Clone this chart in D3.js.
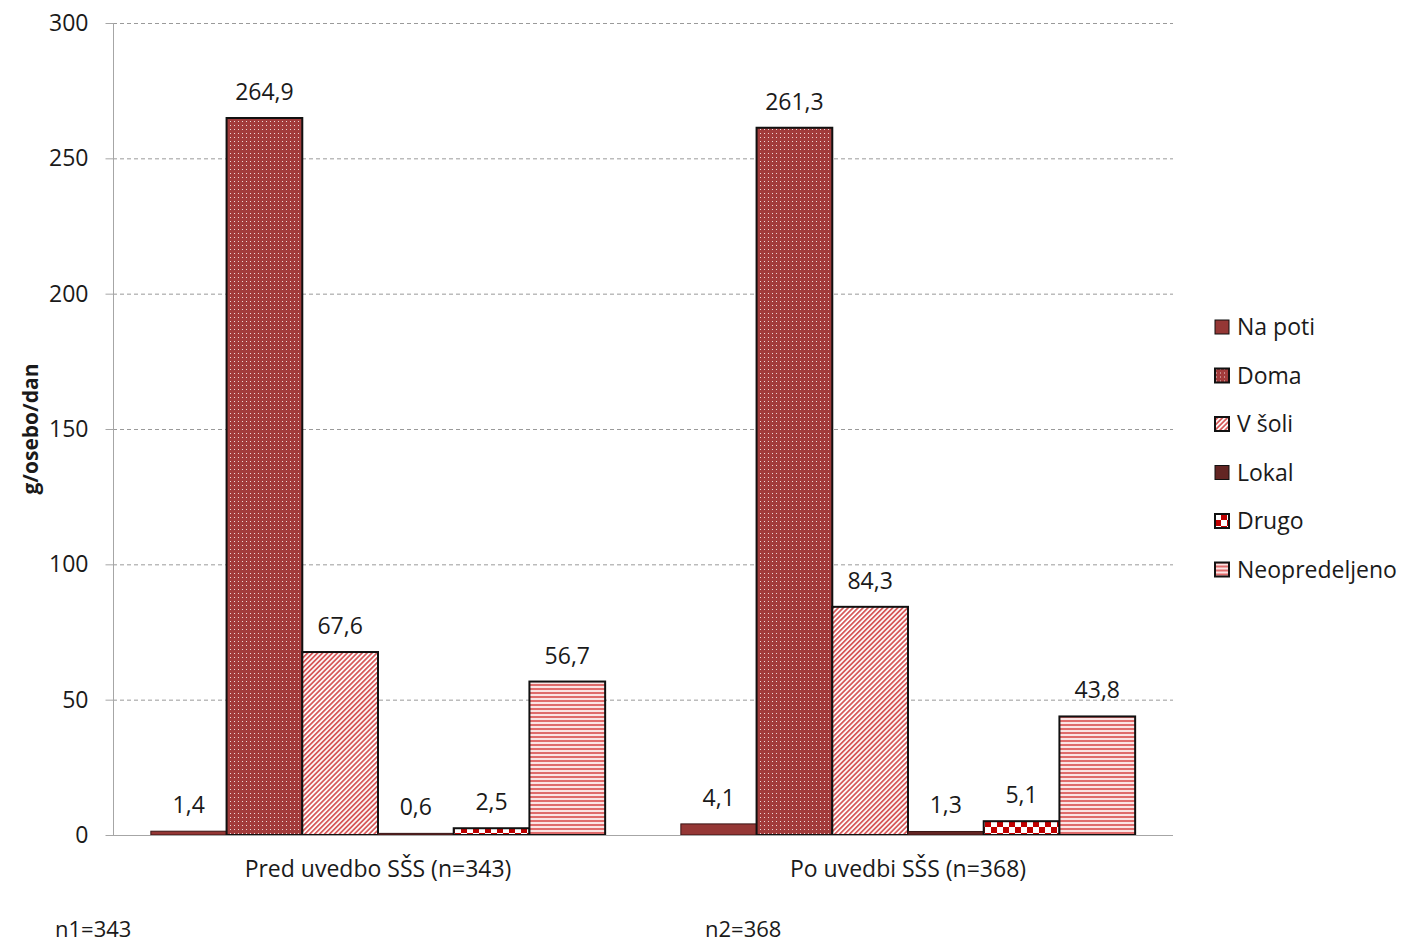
<!DOCTYPE html>
<html><head><meta charset="utf-8">
<script src="https://cdn.jsdelivr.net/npm/d3@7"></script>
<style>body{margin:0;background:#fff}svg{display:block}text{font-family:"Open Sans",sans-serif;fill:#1a1a1a}</style>
</head><body><svg id="c" width="1402" height="942"></svg>
<script>
const categories = ["Pred uvedbo SŠS (n=343)", "Po uvedbi SŠS (n=368)"];
const seriesNames = ["Na poti", "Doma", "V šoli", "Lokal", "Drugo", "Neopredeljeno"];
const naPoti = [1.4, 4.1];
const doma = [264.9, 261.3];
const vSoli = [67.6, 84.3];
const lokal = [0.6, 1.3];
const drugo = [2.5, 5.1];
const neopredeljeno = [56.7, 43.8];
const yTicks = [0, 50, 100, 150, 200, 250, 300];
const notes = ["n1=343", "n2=368"];
const series = [naPoti, doma, vSoli, lokal, drugo, neopredeljeno];

const FS = 23;
const svg = d3.select("#c");
const defs = svg.append("defs");
// Doma: dark red with white dots
let p = defs.append("pattern").attr("id","pDoma").attr("width",4).attr("height",4).attr("patternUnits","userSpaceOnUse");
p.append("rect").attr("width",4).attr("height",4).attr("fill","#a23b3b");
p.append("rect").attr("x",1).attr("y",1).attr("width",1).attr("height",1).attr("fill","#f0d8d8");
// V šoli: diagonal stripes
p = defs.append("pattern").attr("id","pSoli").attr("width",3.5).attr("height",3.5).attr("patternUnits","userSpaceOnUse").attr("patternTransform","rotate(45)");
p.append("rect").attr("width",3.5).attr("height",3.5).attr("fill","#fff");
p.append("rect").attr("width",1.8).attr("height",3.5).attr("fill","#d65a5a");
// Drugo: checkerboard
p = defs.append("pattern").attr("id","pDrugo").attr("width",12).attr("height",12).attr("patternUnits","userSpaceOnUse").attr("y",-1);
p.append("rect").attr("width",12).attr("height",12).attr("fill","#fff");
p.append("rect").attr("width",6).attr("height",6).attr("fill","#c00000");
p.append("rect").attr("x",6).attr("y",6).attr("width",6).attr("height",6).attr("fill","#c00000");
// Neopredeljeno: horizontal stripes
p = defs.append("pattern").attr("id","pNeo").attr("width",4).attr("height",4).attr("patternUnits","userSpaceOnUse");
p.append("rect").attr("width",4).attr("height",4).attr("fill","#fbe4e4");
p.append("rect").attr("width",4).attr("height",2).attr("fill","#df6b6b");

const fills = ["#953735","url(#pDoma)","url(#pSoli)","#632523","url(#pDrugo)","url(#pNeo)"];
const strokes = ["#3a1515","#111","#111","#3a1515","#111","#111"];
const sw = [1,2,2,1,2,2];

const mLeft = 113, mRight = 1173, mTop = 23, mBottom = 835;
const x0 = d3.scaleBand().domain(categories).range([mLeft, mRight]);
const x1 = d3.scaleBand().domain(seriesNames).range([0, x0.bandwidth()]).paddingOuter(0.5).paddingInner(0);
const y = d3.scaleLinear().domain([0, 300]).range([mBottom, mTop]);

// gridlines
svg.append("g").selectAll("line").data(yTicks.filter(d=>d>0)).join("line")
  .attr("x1", mLeft).attr("x2", mRight).attr("y1", d=>y(d)+0.5).attr("y2", d=>y(d)+0.5)
  .attr("stroke","#9a9a9a").attr("stroke-dasharray","4,3").attr("stroke-width",1);

// y axis
const yAxis = d3.axisLeft(y).tickValues(yTicks).tickSize(8).tickPadding(17).tickFormat(d3.format("d"));
const ga = svg.append("g").attr("transform",`translate(${mLeft+0.5},0)`).call(yAxis);
ga.select(".domain").attr("stroke","#a6a6a6").attr("d",`M0,${mTop}V${mBottom}`);
ga.selectAll(".tick line").attr("stroke","#a6a6a6");
ga.selectAll(".tick text").attr("font-size",FS).attr("font-family","'Open Sans',sans-serif").attr("fill","#1a1a1a");

// bars
const groups = svg.append("g").selectAll("g").data(categories).join("g")
  .attr("transform", d=>`translate(${x0(d)},0)`);
seriesNames.forEach((s, si) => {
  groups.append("rect")
    .attr("x", (c,ci)=>x1(s))
    .attr("width", x1.bandwidth())
    .attr("y", (c,ci)=>y(series[si][ci]))
    .attr("height", (c,ci)=>mBottom - y(series[si][ci]))
    .attr("fill", fills[si]).attr("stroke", strokes[si]).attr("stroke-width", sw[si]);
  groups.append("text")
    .attr("x", x1(s) + x1.bandwidth()/2)
    .attr("y", (c,ci)=>y(series[si][ci]) - 18)
    .attr("text-anchor","middle").attr("font-size",FS)
    .text((c,ci)=>String(series[si][ci]).replace(".", ","));
});

// x axis baseline
const gx = svg.append("g").attr("transform",`translate(0,${mBottom+0.5})`)
  .call(d3.axisBottom(x0).tickSize(0).tickPadding(25));
gx.select(".domain").attr("stroke","#a6a6a6").attr("d",`M${mLeft},0H${mRight}`);
gx.selectAll(".tick text").attr("font-size",FS).attr("font-family","'Open Sans',sans-serif").attr("fill","#1a1a1a");

// y title
svg.append("text").attr("transform","translate(38,429) rotate(-90)").attr("text-anchor","middle")
  .attr("font-size",21).attr("font-weight","bold").text("g/osebo/dan");

// notes
svg.selectAll("text.note").data(notes).join("text").attr("class","note")
  .attr("x",(d,i)=>i===0?55:705).attr("y",937).attr("font-size",22).text(d=>d);

// legend
const lg = svg.append("g").attr("transform","translate(1215,327)");
const li = lg.selectAll("g").data(seriesNames).join("g").attr("transform",(d,i)=>`translate(0,${i*48.5})`);
li.append("rect").attr("x",0).attr("y",-7).attr("width",14).attr("height",14)
  .attr("fill",(d,i)=>fills[i]).attr("stroke","#111").attr("stroke-width",(d,i)=>sw[i]===2?2:1);
li.append("text").attr("x",22).attr("y",8).attr("font-size",FS).text(d=>d);
</script></body></html>
